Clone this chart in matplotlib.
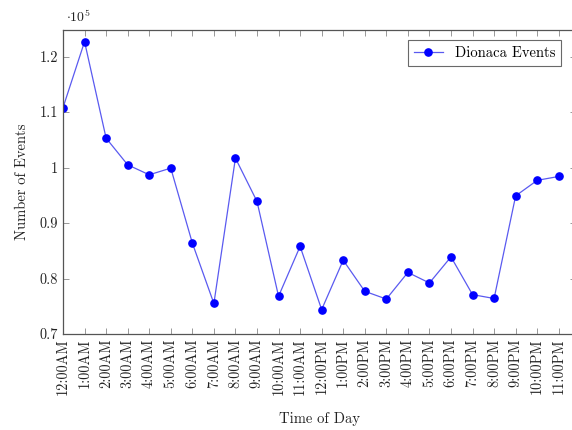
import matplotlib
matplotlib.use("Agg")
import matplotlib.pyplot as plt
from matplotlib.ticker import FuncFormatter, MultipleLocator

plt.rcParams['font.family'] = ['cmr10', 'DejaVu Serif']
plt.rcParams['mathtext.fontset'] = 'cm'
plt.rcParams['axes.formatter.use_mathtext'] = True

hours = ['12:00AM', '1:00AM', '2:00AM', '3:00AM', '4:00AM', '5:00AM', '6:00AM',
         '7:00AM', '8:00AM', '9:00AM', '10:00AM', '11:00AM', '12:00PM', '1:00PM',
         '2:00PM', '3:00PM', '4:00PM', '5:00PM', '6:00PM', '7:00PM', '8:00PM',
         '9:00PM', '10:00PM', '11:00PM']
events = [110800, 122700, 105300, 100500, 98700, 99900, 86400, 75500,
          101700, 93900, 76800, 85800, 74400, 83300, 77700, 76300,
          81100, 79200, 83900, 77100, 76400, 94900, 97700, 98400]

fig = plt.figure(figsize=(5.72, 4.30), dpi=100)
# the reference is cropped on the right, so the axes runs past the edge
ax = fig.add_axes([63/572, 1-334/430, 513/572, 304/430])

x = list(range(len(hours)))
ax.plot(x, events, color='#5a5af0', lw=0.9, marker='o', markersize=5.2,
        markerfacecolor='blue', markeredgecolor='blue', label='Dionaca Events')

ax.set_xlim(0, 23.8)
ax.set_ylim(70000, 124800)
ax.set_xticks(x)
ax.set_xticklabels(hours, rotation=90)
ax.yaxis.set_major_locator(MultipleLocator(10000))
ax.yaxis.set_major_formatter(FuncFormatter(lambda v, p: '{:g}'.format(round(v / 1e5, 2))))

ax.tick_params(direction='in', length=4, width=0.6, color='#888888',
               top=True, right=True, labelsize=10.3, labelcolor='#222222')
for s in ax.spines.values():
    s.set_color('#555555')
    s.set_linewidth(0.9)

ax.text(0.005, 1.015, r'$\cdot 10^5$', transform=ax.transAxes, fontsize=10,
        color='#222222', ha='left', va='bottom')

ax.set_xlabel('Time of Day', fontsize=10.5, color='#222222', labelpad=12)
ax.set_ylabel('Number of Events', fontsize=10.5, color='#222222', labelpad=8)

leg = ax.legend(loc='upper right', fontsize=10.5, frameon=True, fancybox=False,
                borderaxespad=0.7, handlelength=2.0, borderpad=0.4,
                bbox_to_anchor=(563/576 + 0.013, 1.0), bbox_transform=ax.transAxes)
leg.get_frame().set_edgecolor('#444444')
leg.get_frame().set_linewidth(0.8)

fig.savefig('out.png', dpi=100)
